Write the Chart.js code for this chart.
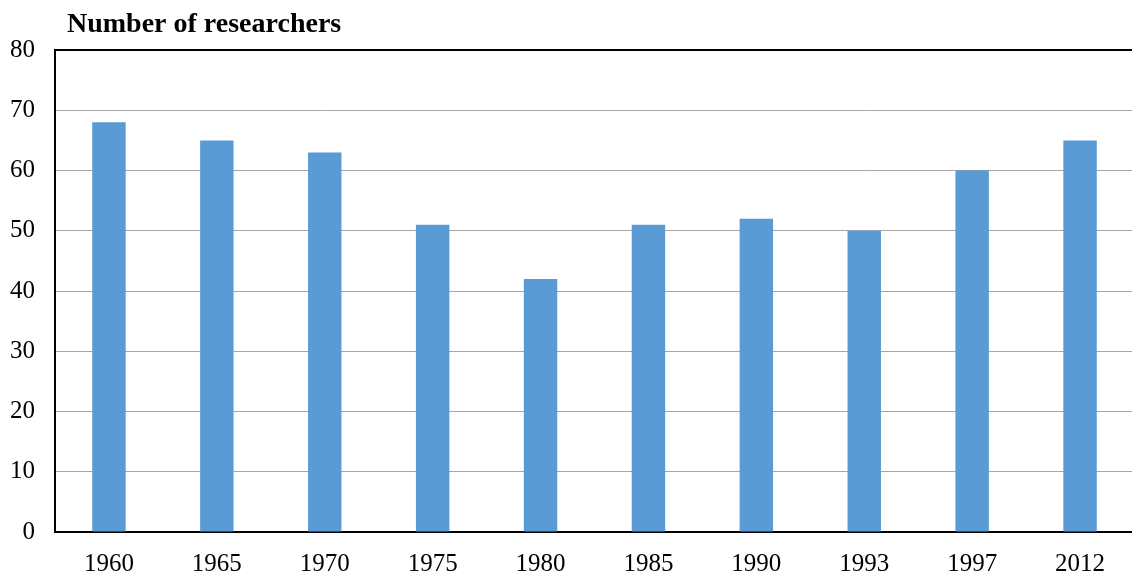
<!DOCTYPE html>
<html>
<head>
<meta charset="utf-8">
<script src="https://cdn.jsdelivr.net/npm/chart.js@4/dist/chart.umd.min.js"></script>
<style>
    html, body { margin: 0; padding: 0; background: #fff; overflow: hidden; }
    #wrap { position: relative; width: 1134px; height: 576px; }
</style>
</head>
<body>
<div id="wrap"><canvas id="researchChart"></canvas></div>
<script>
const years = ['1960', '1965', '1970', '1975', '1980', '1985', '1990', '1993', '1997', '2012'];
const researchers = [68, 65, 63, 51, 42, 51, 52, 50, 60, 65];
const yTicks = [0, 10, 20, 30, 40, 50, 60, 70, 80];
const chartTitle = 'Number of researchers';

// title drawn just right of the y axis, like the original
const titlePlugin = {
    id: 'leftTitle',
    afterDraw(chart) {
        const ctx = chart.ctx;
        ctx.save();
        ctx.font = 'bold 28px "Liberation Serif"';
        ctx.fillStyle = '#000';
        ctx.textBaseline = 'alphabetic';
        ctx.textAlign = 'left';
        ctx.fillText(chartTitle, chart.chartArea.left + 12, 32);
        ctx.restore();
    }
};

new Chart(document.getElementById('researchChart'), {
    type: 'bar',
    data: {
        labels: years,
        datasets: [{
            label: chartTitle,
            data: researchers,
            backgroundColor: '#5b9bd5',
            borderWidth: 0,
            categoryPercentage: 1,
            barPercentage: 0.31
        }]
    },
    options: {
        responsive: true,
        maintainAspectRatio: false,
        animation: false,
        layout: {
            padding: { left: 0, top: 50, right: 0, bottom: 0 }
        },
        plugins: {
            legend: { display: false },
            title: { display: false },
            tooltip: { enabled: false }
        },
        scales: {
            x: {
                afterFit: axis => { axis.height = 44; },
                grid: { display: false, drawTicks: false },
                border: { color: '#000', width: 2 },
                ticks: {
                    color: '#000',
                    padding: 17,
                    font: { family: 'Liberation Serif', size: 25 }
                }
            },
            y: {
                min: 0,
                max: 80,
                afterFit: axis => { axis.width = 55; },
                afterBuildTicks: axis => { axis.ticks = yTicks.map(v => ({ value: v })); },
                grid: {
                    drawTicks: false,
                    color: c => (c.tick && c.tick.value === 80 ? '#000' : '#a6a6a6'),
                    lineWidth: c => (c.tick && c.tick.value === 80 ? 2 : 1)
                },
                border: { color: '#000', width: 2 },
                ticks: {
                    color: '#000',
                    padding: 20,
                    font: { family: 'Liberation Serif', size: 25 }
                }
            }
        }
    },
    plugins: [titlePlugin]
});
</script>
</body>
</html>
